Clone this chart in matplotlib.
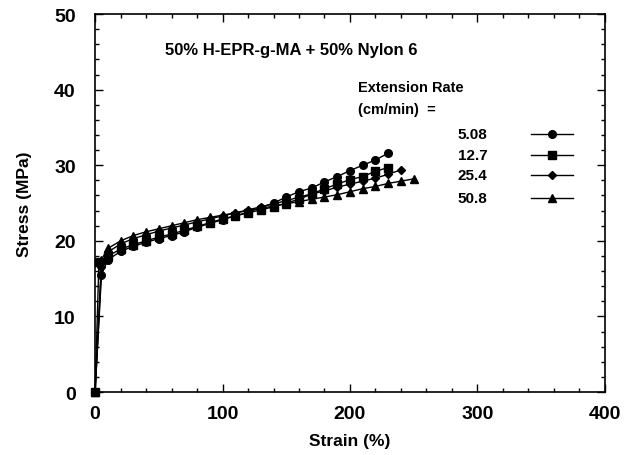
import numpy as np
import matplotlib
matplotlib.use("Agg")
import matplotlib.pyplot as plt
from matplotlib.ticker import MultipleLocator

plt.rcParams['font.family'] = ['Liberation Sans', 'DejaVu Sans']
plt.rcParams['font.weight'] = 'bold'

# extension rate 5.08 cm/min (circles)
strain_a = [0, 5, 10, 20, 30, 40, 50, 60, 70, 80, 90, 100, 110, 120, 130, 140,
            150, 160, 170, 180, 190, 200, 210, 220, 230]
stress_a = [0, 15.5, 17.5, 18.6, 19.3, 19.8, 20.3, 20.7, 21.2, 21.8, 22.3, 22.8,
            23.3, 23.8, 24.4, 25.0, 25.8, 26.5, 27.0, 27.8, 28.5, 29.3, 30.0, 30.7, 31.6]

# 12.7 cm/min (squares)
strain_b = [0, 3, 10, 20, 30, 40, 50, 60, 70, 80, 90, 100, 110, 120, 130, 140,
            150, 160, 170, 180, 190, 200, 210, 220, 230]
stress_b = [0, 17.2, 18.0, 18.9, 19.5, 20.0, 20.5, 20.9, 21.4, 21.9, 22.4, 22.9,
            23.3, 23.7, 24.1, 24.5, 25.0, 25.5, 26.2, 26.9, 27.5, 28.1, 28.5, 29.2, 29.7]

# 25.4 cm/min (diamonds)
strain_c = [0, 5, 10, 20, 30, 40, 50, 60, 70, 80, 90, 100, 110, 120, 130, 140,
            150, 160, 170, 180, 190, 200, 210, 220, 230, 240]
stress_c = [0, 16.5, 18.5, 19.6, 20.3, 20.8, 21.3, 21.7, 22.1, 22.5, 22.9, 23.3,
            23.7, 24.1, 24.5, 24.9, 25.3, 25.8, 26.2, 26.6, 27.1, 27.5, 27.9, 28.3,
            28.8, 29.4]

# 50.8 cm/min (triangles)
strain_d = [0, 5, 10, 20, 30, 40, 50, 60, 70, 80, 90, 100, 110, 120, 130, 140,
            150, 160, 170, 180, 190, 200, 210, 220, 230, 240, 250]
stress_d = [0, 17.5, 19.0, 20.0, 20.7, 21.2, 21.6, 22.0, 22.4, 22.8, 23.1, 23.4,
            23.7, 24.0, 24.3, 24.6, 24.9, 25.2, 25.5, 25.8, 26.1, 26.5, 26.9, 27.2,
            27.6, 27.9, 28.2]

rates = ['5.08', '12.7', '25.4', '50.8']
markers = ['o', 's', 'D', '^']
msizes = [5.5, 5.5, 4.5, 5.5]

fig = plt.figure(figsize=(6.34, 4.56), dpi=100)
ax = fig.add_axes([0.150, 0.138, 0.804, 0.829])

series = [(strain_a, stress_a), (strain_b, stress_b), (strain_c, stress_c), (strain_d, stress_d)]
for (x, y), m, ms in zip(series, markers, msizes):
  ax.plot(x, y, '-', color='black', lw=1.0, marker=m, ms=ms, mfc='black', mec='black',
          clip_on=False, zorder=3)

ax.set_xlim(0, 400)
ax.set_ylim(0, 50)
ax.xaxis.set_major_locator(MultipleLocator(100))
ax.xaxis.set_minor_locator(MultipleLocator(20))
ax.yaxis.set_major_locator(MultipleLocator(10))
ax.yaxis.set_minor_locator(MultipleLocator(2))
ax.tick_params(which='both', direction='in', top=True, right=True, width=1.0)
ax.tick_params(which='major', length=6, labelsize=14)
ax.tick_params(axis='y', which='major', pad=14)
ax.tick_params(axis='x', which='major', pad=9)
ax.tick_params(which='minor', length=3)
for s in ax.spines.values():
  s.set_linewidth(1.2)

ax.set_xlabel('Strain (%)', fontsize=12.5, fontweight='bold', labelpad=8)
ax.set_ylabel('Stress (MPa)', fontsize=12.5, fontweight='bold', labelpad=16)

ax.text(0.385, 0.905, '50% H-EPR-g-MA + 50% Nylon 6', transform=ax.transAxes,
        ha='center', va='center', fontsize=12, fontweight='bold')
ax.text(0.515, 0.808, 'Extension Rate', transform=ax.transAxes,
        ha='left', va='center', fontsize=10.5, fontweight='bold')
ax.text(0.515, 0.748, '(cm/min)  =', transform=ax.transAxes,
        ha='left', va='center', fontsize=10.5, fontweight='bold')

# manual legend rows
row_y = [0.683, 0.628, 0.573, 0.513]
for r, m, ms, yy in zip(rates, markers, msizes, row_y):
  ax.text(0.770, yy, r, transform=ax.transAxes, ha='right', va='center',
          fontsize=11, fontweight='bold')
  ax.plot([0.856, 0.937], [yy, yy], transform=ax.transAxes, color='black', lw=1.0)
  ax.plot([0.897], [yy], transform=ax.transAxes, marker=m, ms=ms, color='black')

fig.savefig('out.png', dpi=100)
